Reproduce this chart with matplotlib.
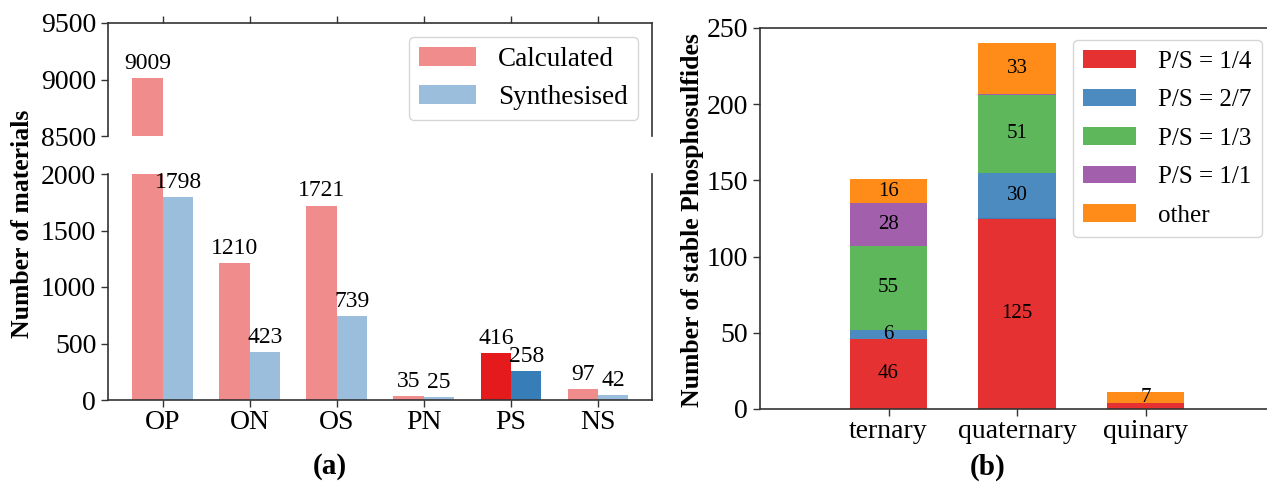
import matplotlib
matplotlib.use("Agg")
import matplotlib.pyplot as plt
import numpy as np

plt.rcParams['font.family'] = ['Liberation Serif', 'DejaVu Serif']

# ---------------- data ----------------
categories = ['OP', 'ON', 'OS', 'PN', 'PS', 'NS']
calculated = [9009, 1210, 1721, 35, 416, 97]
synthesised = [1798, 423, 739, 25, 258, 42]
highlight = 'PS'

groups = ['ternary', 'quaternary', 'quinary']
ratio_labels = ['P/S = 1/4', 'P/S = 2/7', 'P/S = 1/3', 'P/S = 1/1', 'other']
ps_1_4 = [46, 125, 4]
ps_2_7 = [6, 30, 0]
ps_1_3 = [55, 51, 0]
ps_1_1 = [28, 1, 0]
ps_other = [16, 33, 7]

# ---------------- styling ----------------
W, H = 1267, 483
fig = plt.figure(figsize=(W / 100, H / 100), dpi=100)

RED = '#e41a1c'
BLUE = '#377eb8'
set1 = ['#e41a1c', '#377eb8', '#4daf4a', '#984ea3', '#ff7f00']
spine_col = '#333333'
TICK_FS = 20
ANN_FS = 17


def px_rect(l, r, t, b):
    return [l / W, (H - b) / H, (r - l) / W, (b - t) / H]


ax_top = fig.add_axes(px_rect(108, 652, 23, 136))
ax_bot = fig.add_axes(px_rect(108, 652, 174, 400))
ax_r = fig.add_axes(px_rect(760, 1274, 28, 409))

x = np.arange(len(categories))
w = 0.35
alphas = [1.0 if c == highlight else 0.5 for c in categories]

for ax in (ax_top, ax_bot):
    bc = ax.bar(x - w / 2, calculated, w, color=RED, label='Calculated')
    bs = ax.bar(x + w / 2, synthesised, w, color=BLUE, label='Synthesised')
    for p, a in zip(bc.patches, alphas):
        p.set_alpha(a)
    for p, a in zip(bs.patches, alphas):
        p.set_alpha(a)
    ax.set_xlim(-0.63, len(categories) - 1 + 0.62)
    for s in ax.spines.values():
        s.set_color(spine_col)
        s.set_linewidth(1.2)
    ax.tick_params(axis='both', labelsize=TICK_FS, length=5, width=1, color=spine_col)

ax_top.set_ylim(8500, 9500)
ax_top.set_yticks([8500, 9000, 9500])
ax_top.spines['bottom'].set_visible(False)
ax_top.xaxis.tick_top()
ax_top.set_xticks(x)
ax_top.tick_params(labeltop=False)

ax_bot.set_ylim(0, 2000)
ax_bot.set_yticks([0, 500, 1000, 1500, 2000])
ax_bot.spines['top'].set_visible(False)
ax_bot.xaxis.tick_bottom()
ax_bot.set_xticks(x)
ax_bot.set_xticklabels(categories)
ax_bot.tick_params(axis='x', pad=2)

# annotations
for i, (c, s) in enumerate(zip(calculated, synthesised)):
    target = ax_top if c > 2000 else ax_bot
    target.annotate(str(c), (x[i] - w / 2, c), xytext=(0, 3), textcoords='offset points',
                    ha='center', va='bottom', fontsize=ANN_FS)
    ax_bot.annotate(str(s), (x[i] + w / 2, s), xytext=(0, 3), textcoords='offset points',
                    ha='center', va='bottom', fontsize=ANN_FS)

ax_top.legend(loc='upper right', fontsize=19.5, handlelength=2.1, handletextpad=0.8,
              labelspacing=0.45, borderaxespad=0.5)

fig.text(23 / W, 1 - 224 / H, 'Number of materials', rotation=90, ha='center', va='center',
         fontsize=18.5, fontweight='bold')
fig.text(330 / W, 1 - 467 / H, '(a)', ha='center', va='center', fontsize=21, fontweight='bold')

# ---------------- right panel ----------------
gx = np.arange(len(groups))
series = [ps_1_4, ps_2_7, ps_1_3, ps_1_1, ps_other]
bottom = np.zeros(len(groups))
for vals, lab, col in zip(series, ratio_labels, set1):
    vals = np.array(vals, dtype=float)
    ax_r.bar(gx, vals, 0.6, bottom=bottom, color=col, alpha=0.9, label=lab)
    for i, v in enumerate(vals):
        if v >= 5:
            ax_r.text(gx[i], bottom[i] + v / 2, f'{int(v)}', ha='center', va='center',
                      fontsize=15, color='black')
    bottom += vals

ax_r.set_xlim(-1, 3)
ax_r.set_ylim(0, 250)
ax_r.set_yticks([0, 50, 100, 150, 200, 250])
ax_r.set_xticks(gx)
ax_r.set_xticklabels(groups)
for s in ax_r.spines.values():
    s.set_color(spine_col)
    s.set_linewidth(1.2)
ax_r.tick_params(axis='both', labelsize=TICK_FS, length=5, width=1, color=spine_col)
ax_r.tick_params(axis='x', pad=2)
ax_r.legend(loc='upper right', fontsize=18, handlelength=2.1, handletextpad=0.9,
            labelspacing=0.64, borderaxespad=0.5)

fig.text(692 / W, 1 - 220 / H, 'Number of stable Phosphosulfides', rotation=90, ha='center',
         va='center', fontsize=18.5, fontweight='bold')
fig.text(988 / W, 1 - 467 / H, '(b)', ha='center', va='center', fontsize=21, fontweight='bold')

fig.savefig('out.png', dpi=100)
